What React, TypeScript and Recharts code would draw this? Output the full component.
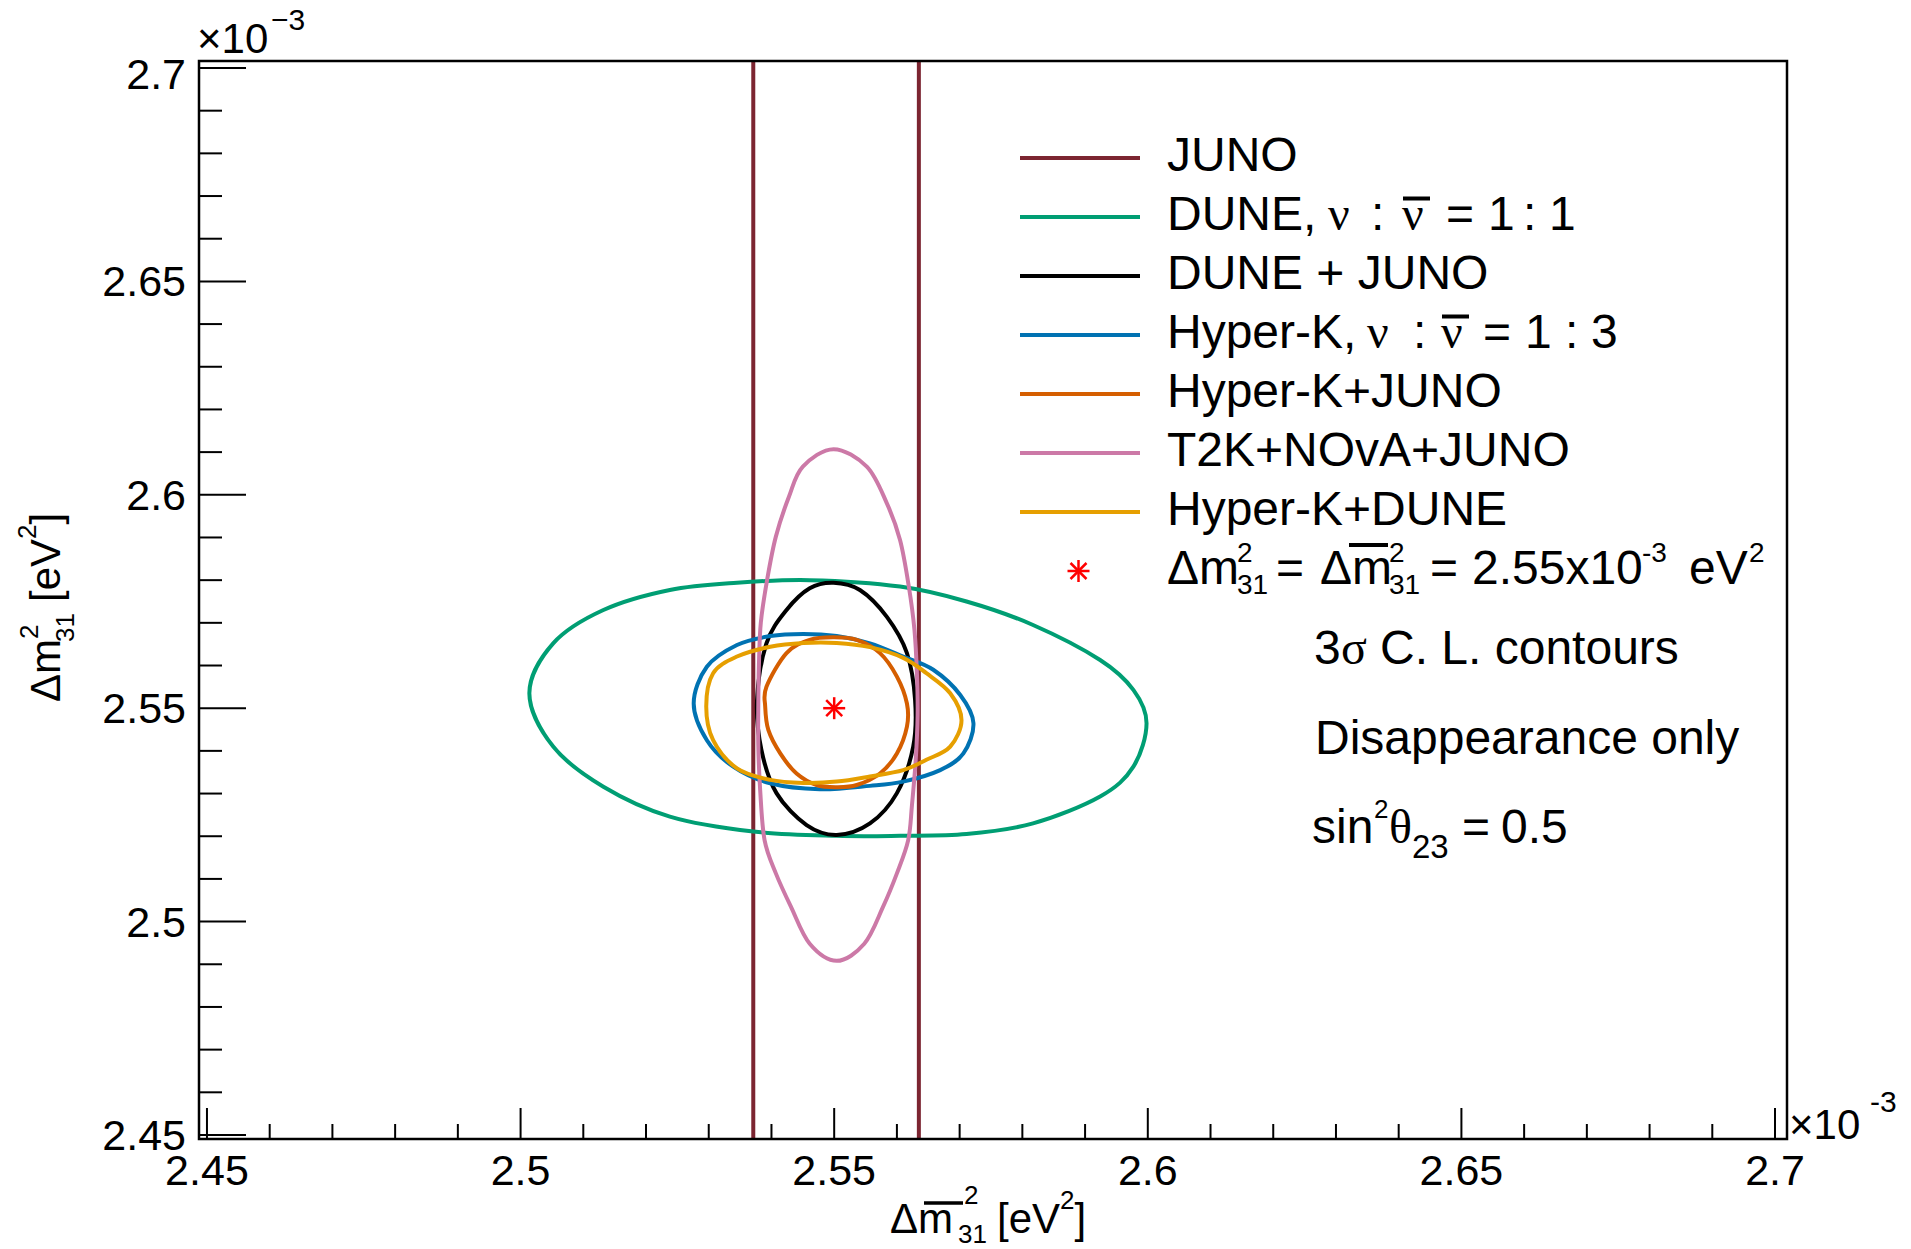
import React from 'react';
import { ComposedChart, Line, Scatter, XAxis, YAxis } from 'recharts';

type Pt = [number, number];

// both axes in units of 1e-3 eV^2
const X_DOMAIN: [number, number] = [2.44873, 2.70191];
const Y_DOMAIN: [number, number] = [2.44906, 2.70164];
const AXIS_TICKS = [
    2.45, 2.46, 2.47, 2.48, 2.49, 2.5, 2.51, 2.52, 2.53, 2.54, 2.55, 2.56, 2.57,
    2.58, 2.59, 2.6, 2.61, 2.62, 2.63, 2.64, 2.65, 2.66, 2.67, 2.68, 2.69, 2.7,
];
const MAJOR_TICKS = [2.45, 2.5, 2.55, 2.6, 2.65, 2.7];
const TICK_LABELS = ['2.45', '2.5', '2.55', '2.6', '2.65', '2.7'];

const JUNO_BOUNDS = [2.5371, 2.5635];
const BEST_FIT = [{ x: 2.55, y: 2.55 }];

const DUNE: Pt[] = [
    [2.5014, 2.5535], [2.5052, 2.5652], [2.5132, 2.573], [2.5238, 2.5777],
    [2.5345, 2.5794], [2.5461, 2.58], [2.5605, 2.5785], [2.5711, 2.575],
    [2.5817, 2.5695], [2.5924, 2.5613], [2.5977, 2.5543], [2.5998, 2.5465],
    [2.5977, 2.5363], [2.5924, 2.5293], [2.5817, 2.523], [2.5711, 2.5205],
    [2.5605, 2.5201], [2.5504, 2.5201], [2.5371, 2.5211], [2.5238, 2.5246],
    [2.5132, 2.5316], [2.5052, 2.541],
];

const DUNE_JUNO: Pt[] = [
    [2.5377, 2.5519], [2.5392, 2.5652], [2.5424, 2.573], [2.5461, 2.5781],
    [2.5499, 2.5794], [2.5541, 2.5777], [2.5584, 2.5714], [2.5616, 2.5629],
    [2.5629, 2.5519], [2.5626, 2.541], [2.56, 2.5301], [2.5557, 2.523],
    [2.5504, 2.5203], [2.5456, 2.5226], [2.5408, 2.5301], [2.5384, 2.5402],
];

const HYPERK: Pt[] = [
    [2.5276, 2.5511], [2.5297, 2.5597], [2.5345, 2.5648], [2.5398, 2.5669],
    [2.5451, 2.5674], [2.5504, 2.5669], [2.5557, 2.5652], [2.561, 2.5621],
    [2.5658, 2.559], [2.5701, 2.5531], [2.5722, 2.5465], [2.5706, 2.5394],
    [2.5669, 2.5355], [2.561, 2.5328], [2.5557, 2.5318], [2.5477, 2.531],
    [2.5398, 2.5324], [2.5339, 2.5363], [2.5297, 2.5425],
];

const HYPERK_JUNO: Pt[] = [
    [2.539, 2.5504], [2.5395, 2.5449], [2.5414, 2.5394], [2.544, 2.5347],
    [2.5472, 2.532], [2.5504, 2.5315], [2.5536, 2.532], [2.5573, 2.5347],
    [2.56, 2.5394], [2.5616, 2.5457], [2.5616, 2.5511], [2.56, 2.5574],
    [2.5573, 2.5629], [2.5536, 2.566], [2.5499, 2.5666], [2.5461, 2.566],
    [2.5424, 2.5629], [2.5392, 2.555],
];

const T2K_NOVA_JUNO: Pt[] = [
    [2.5499, 2.6107], [2.5552, 2.6066], [2.5584, 2.598], [2.5605, 2.5894],
    [2.5619, 2.5785], [2.5628, 2.5683], [2.5632, 2.5578], [2.5633, 2.5484],
    [2.563, 2.5379], [2.5624, 2.5273], [2.5618, 2.5191], [2.56, 2.5113],
    [2.5578, 2.5035], [2.5548, 2.4948], [2.5504, 2.4908], [2.5461, 2.4948],
    [2.5431, 2.5035], [2.5407, 2.5113], [2.5389, 2.5191], [2.5382, 2.5308],
    [2.5379, 2.5414], [2.5379, 2.5508], [2.538, 2.5601], [2.5383, 2.57],
    [2.5393, 2.58], [2.5407, 2.5902], [2.5428, 2.5996], [2.545, 2.6066],
];

const HYPERK_DUNE: Pt[] = [
    [2.5296, 2.5504], [2.5307, 2.5582], [2.5345, 2.5621], [2.5398, 2.5644],
    [2.5451, 2.5653], [2.5504, 2.5653], [2.5557, 2.5643], [2.561, 2.5618],
    [2.5647, 2.5582], [2.5685, 2.5535], [2.5703, 2.5472], [2.5685, 2.541],
    [2.5647, 2.5379], [2.561, 2.5355], [2.5557, 2.534], [2.5504, 2.5328],
    [2.5451, 2.5325], [2.5398, 2.5332], [2.5345, 2.5359], [2.5307, 2.5425],
];

const COLORS = {
    juno: '#7c2531',
    dune: '#009e73',
    duneJuno: '#000000',
    hyperK: '#0072b2',
    hyperKJuno: '#d55e00',
    t2k: '#cc79a7',
    hyperKDune: '#e69f00',
};

const CONTOURS = [
    { id: 'dune', points: DUNE, color: COLORS.dune },
    { id: 'dune-juno', points: DUNE_JUNO, color: COLORS.duneJuno },
    { id: 'hyperk', points: HYPERK, color: COLORS.hyperK },
    { id: 'hyperk-juno', points: HYPERK_JUNO, color: COLORS.hyperKJuno },
    { id: 't2k', points: T2K_NOVA_JUNO, color: COLORS.t2k },
    { id: 'hyperk-dune', points: HYPERK_DUNE, color: COLORS.hyperKDune },
];

const LEGEND_COLORS = [
    COLORS.juno, COLORS.dune, COLORS.duneJuno, COLORS.hyperK,
    COLORS.hyperKJuno, COLORS.t2k, COLORS.hyperKDune,
];

const W = 1911;
const H = 1249;
const FRAME = { left: 199, top: 61, right: 1787, bottom: 1139 };
const SANS = '"Liberation Sans", Arial, Helvetica, sans-serif';
const SERIF = '"Liberation Serif", "DejaVu Serif", serif';

// closed Catmull-Rom style curve, passed to recharts as a d3 curve factory
const smoothClosed = (context: any) => {
    let pts: number[][] = [];
    return {
        areaStart() {},
        areaEnd() {},
        lineStart() {
            pts = [];
        },
        point(x: number, y: number) {
            pts.push([+x, +y]);
        },
        lineEnd() {
            const m = pts.length;
            if (!m) return;
            context.moveTo(pts[0][0], pts[0][1]);
            for (let i = 0; i < m; i++) {
                const p0 = pts[(i - 1 + m) % m];
                const p1 = pts[i];
                const p2 = pts[(i + 1) % m];
                const p3 = pts[(i + 2) % m];
                context.bezierCurveTo(
                    p1[0] + (p2[0] - p0[0]) / 6,
                    p1[1] + (p2[1] - p0[1]) / 6,
                    p2[0] - (p3[0] - p1[0]) / 6,
                    p2[1] - (p3[1] - p1[1]) / 6,
                    p2[0],
                    p2[1]
                );
            }
            context.closePath();
        },
    };
};

const toRows = (pts: Pt[]) => pts.map(([x, y]) => ({ x, y }));
const majorIndex = (v: number) => MAJOR_TICKS.findIndex((m) => Math.abs(m - v) < 1e-6);

const XTick = (props: any) => {
    const { x, payload } = props;
    const i = majorIndex(payload.value);
    const len = i >= 0 ? 31 : 15;
    return (
        <g>
            <line x1={x} x2={x} y1={FRAME.bottom} y2={FRAME.bottom - len} stroke="#000" strokeWidth={2} />
            {i >= 0 && (
                <text x={x} y={FRAME.bottom + 46} textAnchor="middle" fontSize={43} fontFamily={SANS} fill="#000">
                    {TICK_LABELS[i]}
                </text>
            )}
        </g>
    );
};

const YTick = (props: any) => {
    const { y, payload } = props;
    const i = majorIndex(payload.value);
    const len = i >= 0 ? 47 : 23;
    const shift = i === MAJOR_TICKS.length - 1 ? 21 : 15;
    return (
        <g>
            <line x1={FRAME.left} x2={FRAME.left + len} y1={y} y2={y} stroke="#000" strokeWidth={2} />
            {i >= 0 && (
                <text x={186} y={y + shift} textAnchor="end" fontSize={43} fontFamily={SANS} fill="#000">
                    {TICK_LABELS[i]}
                </text>
            )}
        </g>
    );
};

const Asterisk = (props: any) => {
    const { cx, cy } = props;
    return (
        <g stroke="#ff0000" strokeWidth={2.5}>
            <line x1={cx - 11} y1={cy} x2={cx + 11} y2={cy} />
            <line x1={cx} y1={cy - 11} x2={cx} y2={cy + 11} />
            <line x1={cx - 8} y1={cy - 8} x2={cx + 8} y2={cy + 8} />
            <line x1={cx - 8} y1={cy + 8} x2={cx + 8} y2={cy - 8} />
        </g>
    );
};

const rowY = (i: number) => 158 + 59 * i;

const Overlay = () => {
    const t = (i: number) => rowY(i) + 12.5;
    return (
        <svg
            width={W}
            height={H}
            style={{ position: 'absolute', left: 0, top: 0, pointerEvents: 'none' }}
            fontFamily={SANS}
            fill="#000"
        >
            <rect
                x={FRAME.left}
                y={FRAME.top}
                width={FRAME.right - FRAME.left}
                height={FRAME.bottom - FRAME.top}
                fill="none"
                stroke="#000"
                strokeWidth={2.5}
            />

            {/* exponent labels */}
            <text x={197} y={53} fontSize={42}>×10</text>
            <text x={271} y={30} fontSize={30}>−3</text>
            <text x={1789} y={1139} fontSize={42}>×10</text>
            <text x={1870} y={1112} fontSize={30}>-3</text>

            {/* legend */}
            {LEGEND_COLORS.map((c, i) => (
                <line key={c} x1={1020} x2={1140} y1={rowY(i)} y2={rowY(i)} stroke={c} strokeWidth={4} />
            ))}
            <g fontSize={48}>
                <text x={1167} y={t(0)}>JUNO</text>

                <text y={t(1)}>
                    <tspan x={1167}>DUNE,</tspan>
                    <tspan x={1328} fontFamily={SERIF}>ν</tspan>
                    <tspan x={1371}>:</tspan>
                    <tspan x={1402} fontFamily={SERIF}>ν</tspan>
                    <tspan x={1446}>=</tspan>
                    <tspan x={1488}>1</tspan>
                    <tspan x={1523}>:</tspan>
                    <tspan x={1549}>1</tspan>
                </text>
                <line x1={1403} x2={1430} y1={t(1) - 31} y2={t(1) - 31} stroke="#000" strokeWidth={4} />

                <text x={1167} y={t(2)}>DUNE + JUNO</text>

                <text y={t(3)}>
                    <tspan x={1167}>Hyper-K,</tspan>
                    <tspan x={1367} fontFamily={SERIF}>ν</tspan>
                    <tspan x={1413}>:</tspan>
                    <tspan x={1441} fontFamily={SERIF}>ν</tspan>
                    <tspan x={1483}>=</tspan>
                    <tspan x={1525}>1</tspan>
                    <tspan x={1565}>:</tspan>
                    <tspan x={1591}>3</tspan>
                </text>
                <line x1={1442} x2={1469} y1={t(3) - 31} y2={t(3) - 31} stroke="#000" strokeWidth={4} />

                <text x={1167} y={t(4)}>Hyper-K+JUNO</text>
                <text x={1167} y={t(5)}>T2K+NOvA+JUNO</text>
                <text x={1167} y={t(6)}>Hyper-K+DUNE</text>

                <text y={t(7)}>
                    <tspan x={1167}>Δm</tspan>
                    <tspan x={1276}>=</tspan>
                    <tspan x={1320}>Δm</tspan>
                    <tspan x={1430}>=</tspan>
                    <tspan x={1472}>2.55x10</tspan>
                    <tspan x={1689}>eV</tspan>
                </text>
                <line x1={1349} x2={1388} y1={545} y2={545} stroke="#000" strokeWidth={4} />
            </g>
            <g fontSize={28}>
                <text x={1237} y={t(7) - 22}>2</text>
                <text x={1237} y={t(7) + 10}>31</text>
                <text x={1389} y={t(7) - 22}>2</text>
                <text x={1389} y={t(7) + 10}>31</text>
                <text x={1642} y={t(7) - 22}>-3</text>
                <text x={1749} y={t(7) - 22}>2</text>
            </g>
            <g transform={`translate(${1078.5}, ${rowY(7)})`}>
                <Asterisk cx={0} cy={0} />
            </g>

            {/* notes */}
            <g fontSize={48}>
                <text y={664}>
                    <tspan x={1314}>3</tspan>
                    <tspan x={1341} fontFamily={SERIF}>σ</tspan>
                    <tspan x={1380}>C. L. contours</tspan>
                </text>
                <text x={1315} y={754}>Disappearance only</text>
                <text y={843}>
                    <tspan x={1312}>sin</tspan>
                    <tspan x={1389} fontFamily={SERIF}>θ</tspan>
                    <tspan x={1462}>=</tspan>
                    <tspan x={1501}>0.5</tspan>
                </text>
            </g>
            <text x={1374} y={818} fontSize={26}>2</text>
            <text x={1412} y={858} fontSize={33}>23</text>

            {/* x title */}
            <g fontSize={42}>
                <text x={890} y={1233}>Δm</text>
                <text x={997} y={1233}>
                    [eV<tspan dy={-24} fontSize={26}>2</tspan>
                    <tspan dy={24}>]</tspan>
                </text>
            </g>
            <line x1={924} x2={963} y1={1203} y2={1203} stroke="#000" strokeWidth={3.5} />
            <g fontSize={26}>
                <text x={964} y={1204}>2</text>
                <text x={958} y={1243}>31</text>
            </g>

            {/* y title */}
            <g transform="translate(60, 702) rotate(-90)">
                <text x={0} y={0} fontSize={42}>Δm</text>
                <text x={63} y={-22} fontSize={26}>2</text>
                <text x={60} y={14} fontSize={26}>31</text>
                <text x={100} y={0} fontSize={42}>
                    [eV<tspan dy={-24} fontSize={26}>2</tspan>
                    <tspan dy={24}>]</tspan>
                </text>
            </g>
        </svg>
    );
};

export default function App() {
    return (
        <div style={{ position: 'absolute', left: 0, top: 0, width: W, height: H, background: '#fff' }}>
            <ComposedChart
                width={W}
                height={H}
                margin={{ top: FRAME.top, right: W - FRAME.right, bottom: 10, left: 19 }}
            >
                <XAxis
                    type="number"
                    dataKey="x"
                    domain={X_DOMAIN}
                    allowDataOverflow
                    ticks={AXIS_TICKS}
                    interval={0}
                    tick={XTick}
                    tickLine={false}
                    axisLine={false}
                    height={100}
                />
                <YAxis
                    type="number"
                    dataKey="y"
                    domain={Y_DOMAIN}
                    allowDataOverflow
                    ticks={AXIS_TICKS}
                    interval={0}
                    tick={YTick}
                    tickLine={false}
                    axisLine={false}
                    width={180}
                />
                {JUNO_BOUNDS.map((xv, i) => (
                    <Line
                        key={`juno-${i}`}
                        data={[{ x: xv, y: Y_DOMAIN[0] }, { x: xv, y: Y_DOMAIN[1] }]}
                        dataKey="y"
                        type="linear"
                        stroke={COLORS.juno}
                        strokeWidth={4}
                        dot={false}
                        activeDot={false}
                        isAnimationActive={false}
                    />
                ))}
                {CONTOURS.map((c) => (
                    <Line
                        key={c.id}
                        data={toRows(c.points)}
                        dataKey="y"
                        type={smoothClosed as any}
                        stroke={c.color}
                        strokeWidth={4}
                        fill="none"
                        dot={false}
                        activeDot={false}
                        isAnimationActive={false}
                    />
                ))}
                <Scatter data={BEST_FIT} dataKey="y" shape={<Asterisk />} isAnimationActive={false} />
            </ComposedChart>
            <Overlay />
        </div>
    );
}
